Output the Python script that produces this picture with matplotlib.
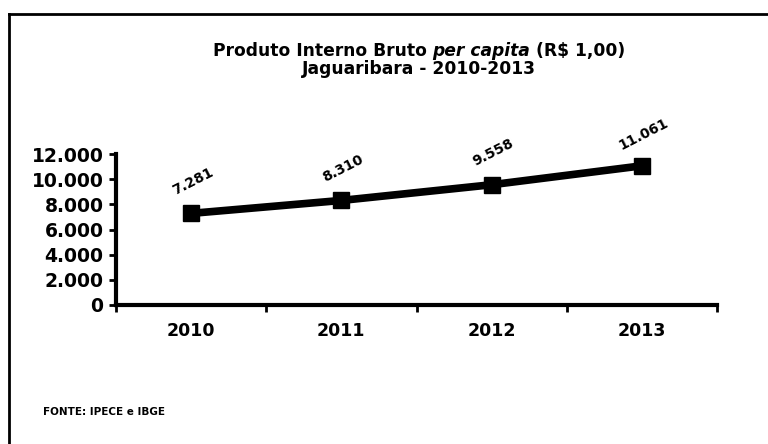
import matplotlib
matplotlib.use("Agg")
import matplotlib.pyplot as plt
from matplotlib.lines import Line2D

plt.rcParams['font.family'] = ['DejaVu Sans']

# data
anos = ['2010', '2011', '2012', '2013']
pib_pc = [7281, 8310, 9558, 11061]
rotulos = ['7.281', '8.310', '9.558', '11.061']
y_ticks = [0, 2000, 4000, 6000, 8000, 10000, 12000]
y_labels = ['0', '2.000', '4.000', '6.000', '8.000', '10.000', '12.000']

fig = plt.figure(figsize=(7.68, 4.44), dpi=100)
fig.patch.set_facecolor('white')

# frame (only top and left edges visible in the original scan)
fig.add_artist(Line2D([9/768, 9/768], [0, 1 - 14/444], transform=fig.transFigure,
                      color='black', lw=2))
fig.add_artist(Line2D([9/768, 1], [1 - 14/444, 1 - 14/444], transform=fig.transFigure,
                      color='black', lw=2))

ax = fig.add_axes([116/768, 1 - 305/444, (717 - 116)/768, (305 - 154)/444])
x = list(range(len(anos)))
ax.plot(x, pib_pc, color='black', lw=5.5, marker='s', markersize=12,
        markerfacecolor='black', markeredgecolor='black', solid_capstyle='round')

for xi, yi, lab in zip(x, pib_pc, rotulos):
    ax.annotate(lab, (xi, yi), xytext=(1, 23), textcoords='offset points',
                ha='center', va='center', rotation=27, fontsize=10,
                fontweight='bold')

ax.set_xlim(-0.5, 3.5)
ax.set_ylim(0, 12000)
ax.set_yticks(y_ticks)
ax.set_yticklabels(y_labels, fontsize=13.5, fontweight='bold')
ax.set_xticks(x)
ax.set_xticklabels(anos, fontsize=12.5, fontweight='bold')
ax.set_xticks([-0.5, 0.5, 1.5, 2.5, 3.5], minor=True)
ax.tick_params(axis='x', which='major', length=0, pad=12)
ax.tick_params(axis='x', which='minor', length=5, width=2, direction='out')
ax.tick_params(axis='y', which='major', length=5, width=2, direction='out', pad=4)

for s in ['top', 'right']:
    ax.spines[s].set_visible(False)
for s in ['left', 'bottom']:
    ax.spines[s].set_linewidth(3)

# title line 1 with italic "per capita", built from pieces
partes = [('Produto Interno Bruto ', 'normal'), ('per capita', 'italic'), (' (R$ 1,00)', 'normal')]
renderer = fig.canvas.get_renderer()
textos = []
larg_total = 0
for txt, estilo in partes:
    t = fig.text(0, 1 - 51/444, txt, ha='left', va='center', fontsize=12.3,
                 fontweight='bold', fontstyle=estilo)
    w = t.get_window_extent(renderer).width
    textos.append((t, w))
    larg_total += w
x0 = 419 - larg_total / 2
for t, w in textos:
    t.set_x(x0 / 768)
    x0 += w

fig.text(419/768, 1 - 69/444, 'Jaguaribara - 2010-2013',
         ha='center', va='center', fontsize=12.3, fontweight='bold')

fig.text(43/768, 1 - 412/444, 'FONTE: IPECE e IBGE', ha='left', va='center',
         fontsize=7.5, fontweight='bold')

fig.savefig('out.png', dpi=100)
